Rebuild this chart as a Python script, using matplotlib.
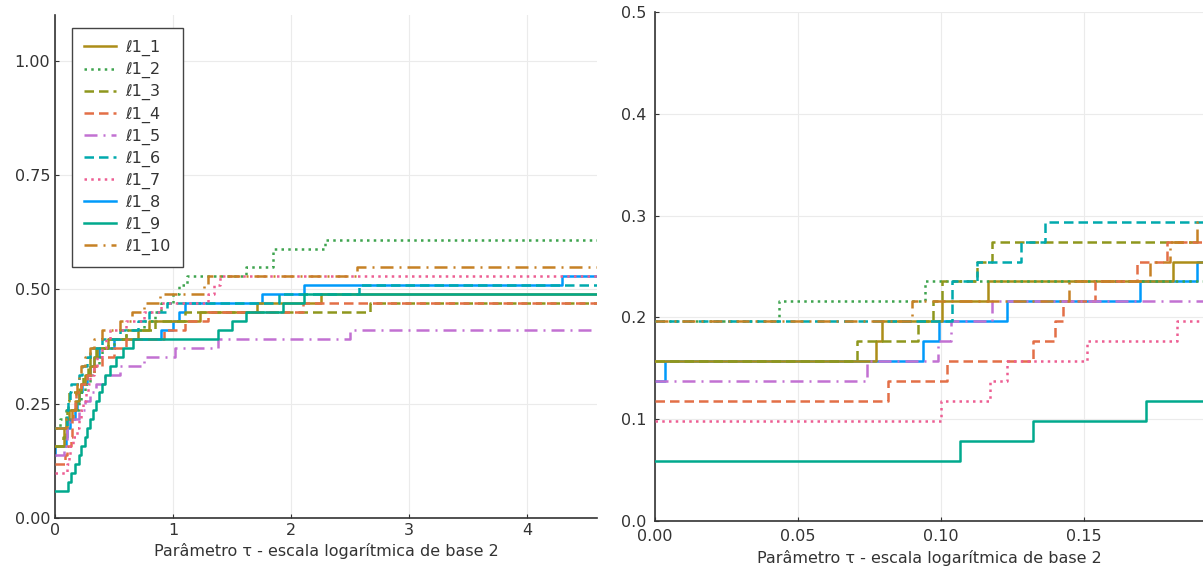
import numpy as np
import matplotlib.pyplot as plt

# perfil de desempenho: fração de problemas resolvidos (de 51) com razão <= 2^tau
n_prob = 51

labels = ["ℓ1_1", "ℓ1_2", "ℓ1_3", "ℓ1_4", "ℓ1_5",
          "ℓ1_6", "ℓ1_7", "ℓ1_8", "ℓ1_9", "ℓ1_10"]

# pontos de salto (tau) e número de problemas resolvidos a partir de cada salto
tau_1 = [0, 0.0773, 0.0794, 0.1003, 0.1165, 0.181, 0.2, 0.22, 0.25, 0.3, 0.33, 0.36, 0.45, 0.7, 0.8, 1.23, 1.71, 2.25]
cnt_1 = [8, 9, 10, 11, 12, 13, 14, 15, 16, 17, 18, 19, 20, 21, 22, 23, 24, 25]

tau_2 = [0, 0.0434, 0.0944, 0.2, 0.22, 0.25, 0.3, 0.33, 0.37, 0.4, 0.5, 0.6, 0.75, 0.85, 0.9, 1.0, 1.05, 1.12, 1.62, 1.85, 2.29]
cnt_2 = [10, 11, 12, 13, 14, 15, 16, 17, 18, 19, 20, 21, 22, 23, 24, 25, 26, 27, 28, 30, 31]

tau_3 = [0, 0.0706, 0.0918, 0.0973, 0.1003, 0.1125, 0.1178, 0.2, 0.24, 0.28, 0.3, 0.35, 0.45, 0.6, 0.85, 1.1, 2.67]
cnt_3 = [8, 9, 10, 11, 12, 13, 14, 15, 16, 17, 18, 19, 20, 21, 22, 23, 24]

tau_4 = [0, 0.0815, 0.102, 0.132, 0.140, 0.1425, 0.154, 0.1685, 0.179, 0.22, 0.27, 0.33, 0.4, 0.5, 0.6, 0.92, 1.1, 1.3, 2.1]
cnt_4 = [6, 7, 8, 9, 10, 11, 12, 13, 14, 15, 16, 17, 18, 19, 20, 21, 22, 23, 24]

tau_5 = [0, 0.074, 0.099, 0.1035, 0.118, 0.2, 0.25, 0.3, 0.35, 0.42, 0.55, 0.75, 1.02, 1.38, 2.5]
cnt_5 = [7, 8, 9, 10, 11, 12, 13, 14, 15, 16, 17, 18, 19, 20, 21]

tau_6 = [0, 0.104, 0.1125, 0.128, 0.1364, 0.2, 0.23, 0.27, 0.3, 0.4, 0.55, 0.7, 0.8, 0.95, 1.9, 2.58]
cnt_6 = [10, 12, 13, 14, 15, 16, 17, 18, 19, 20, 21, 22, 23, 24, 25, 26]

tau_7 = [0, 0.100, 0.117, 0.123, 0.151, 0.1825, 0.2, 0.22, 0.24, 0.26, 0.28, 0.3, 0.33, 0.36, 0.4, 0.43, 0.47, 0.6, 0.75, 0.9, 1.3, 1.35, 1.4]
cnt_7 = [5, 6, 7, 8, 9, 10, 11, 12, 13, 14, 15, 16, 17, 18, 19, 20, 21, 22, 23, 24, 25, 26, 27]

tau_8 = [0, 0.0035, 0.0937, 0.0993, 0.123, 0.1696, 0.1895, 0.2, 0.23, 0.27, 0.3, 0.33, 0.37, 0.5, 0.9, 1.0, 1.05, 1.1, 1.75, 2.11, 4.3]
cnt_8 = [7, 8, 9, 10, 11, 12, 13, 14, 15, 16, 17, 18, 19, 20, 21, 22, 23, 24, 25, 26, 27]

tau_9 = [0, 0.1066, 0.132, 0.1717, 0.2, 0.22, 0.25, 0.27, 0.3, 0.32, 0.35, 0.37, 0.4, 0.42, 0.47, 0.52, 0.58, 0.66, 1.38, 1.5, 1.62, 1.93, 2.11]
cnt_9 = [3, 4, 5, 6, 7, 8, 9, 10, 11, 12, 13, 14, 15, 16, 17, 18, 19, 20, 21, 22, 23, 24, 25]

tau_10 = [0, 0.0898, 0.1448, 0.173, 0.18, 0.1895, 0.2, 0.22, 0.25, 0.3, 0.33, 0.4, 0.55, 0.65, 0.75, 0.89, 1.26, 1.3, 2.56]
cnt_10 = [10, 11, 12, 13, 14, 15, 16, 17, 18, 19, 20, 21, 22, 23, 24, 25, 26, 27, 28]

taus = [tau_1, tau_2, tau_3, tau_4, tau_5, tau_6, tau_7, tau_8, tau_9, tau_10]
cnts = [cnt_1, cnt_2, cnt_3, cnt_4, cnt_5, cnt_6, cnt_7, cnt_8, cnt_9, cnt_10]

cores = ["#AC8D18", "#3EA44E", "#8E971D", "#E36F47", "#C271D2",
         "#00A9AD", "#ED5E93", "#009AFA", "#00A98D", "#C68125"]
lw = 1.8
estilos = ["-", (0, (1, 1.7)), (0, (3.8, 2)), (0, (3.8, 2)), (0, (5.2, 2.4, 0.8, 2.4)),
           (0, (3.8, 2)), (0, (1, 1.7)), "-", "-", (0, (5.2, 2.4, 0.8, 2.4))]
# ℓ1_8 fica por baixo das outras curvas
camadas = [3, 3, 3, 3, 3, 3, 3, 2, 3, 3]

tau_fim = 6.0
cinza = "#333333"

fig = plt.figure(figsize=(12.03, 5.68), dpi=100)
W, H = 1203, 568
ax1 = fig.add_axes([55 / W, 1 - 518 / H, (597 - 55) / W, (518 - 15) / H])
ax2 = fig.add_axes([655 / W, 1 - 521 / H, (W - 655) / W, (521 - 12) / H])


def perfil(ax):
    linhas = []
    for t, c, cor, ls, lab, z in zip(taus, cnts, cores, estilos, labels, camadas):
        x = np.array(t + [tau_fim])
        y = np.array(c + [c[-1]]) / n_prob
        l, = ax.step(x, y, where="post", color=cor, lw=lw, linestyle=ls, label=lab, zorder=z)
        linhas.append(l)
    return linhas


def estilo(ax):
    for s in ["top", "right"]:
        ax.spines[s].set_visible(False)
    for s in ["left", "bottom"]:
        ax.spines[s].set_color(cinza)
        ax.spines[s].set_linewidth(1.2)
    ax.grid(True, color="#ebebeb", lw=0.8)
    ax.set_axisbelow(True)
    ax.tick_params(direction="in", length=3, labelsize=11.5, colors=cinza, labelcolor=cinza)
    ax.set_xlabel("Parâmetro τ - escala logarítmica de base 2", fontsize=11.5, color=cinza, labelpad=4)


linhas = perfil(ax1)
ax1.set_xlim(0, (597 - 55) / 118)
ax1.set_ylim(0, 1.1)
ax1.set_xticks([0, 1, 2, 3, 4])
ax1.set_yticks([0, 0.25, 0.5, 0.75, 1.0])
ax1.set_yticklabels(["0.00", "0.25", "0.50", "0.75", "1.00"])
estilo(ax1)
leg = ax1.legend(linhas, labels, loc="upper left", bbox_to_anchor=(0.031, 0.974),
                 borderaxespad=0, fontsize=11.5, fancybox=False, framealpha=1,
                 edgecolor="#444444", handlelength=2.0, handletextpad=0.6,
                 labelspacing=0.37, borderpad=0.75)
leg.get_frame().set_linewidth(1.0)
leg.set_zorder(5)
for txt in leg.get_texts():
    txt.set_color(cinza)

perfil(ax2)
ax2.set_xlim(0, (W - 655) / 2860)
ax2.set_ylim(0, 0.5)
ax2.set_xticks([0, 0.05, 0.10, 0.15])
ax2.set_xticklabels(["0.00", "0.05", "0.10", "0.15"])
ax2.set_yticks([0, 0.1, 0.2, 0.3, 0.4, 0.5])
ax2.set_yticklabels(["0.0", "0.1", "0.2", "0.3", "0.4", "0.5"])
estilo(ax2)
ax2.tick_params(axis="x", pad=6)
ax2.tick_params(axis="y", pad=6)

fig.savefig("out.png", dpi=100)
